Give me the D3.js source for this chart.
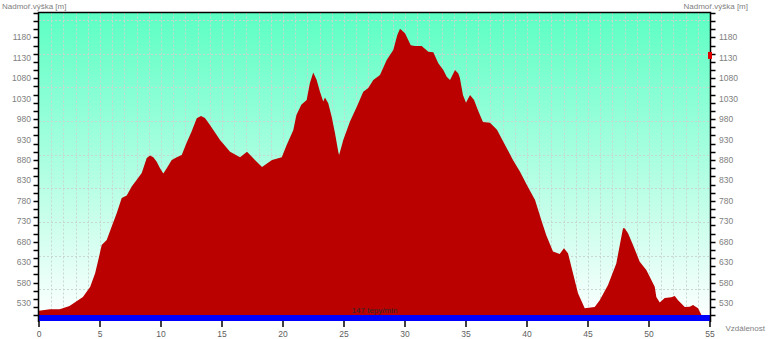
<!DOCTYPE html>
<html>
<head>
<meta charset="utf-8">
<script src="https://cdn.jsdelivr.net/npm/d3@7"></script>
<style>
    body { margin: 0; background: #fff; }
    svg text { font-family: Arial, "Liberation Sans", sans-serif; }
</style>
</head>
<body>
<svg id="chart" width="768" height="339"></svg>
<script>
// distance [km] and elevation [m]
var distance = [0, 0.9, 1.7, 2.5, 3.6, 4.2, 4.6, 4.86, 5.14, 5.55, 5.96, 6.37, 6.78, 7.19, 7.6, 8.0, 8.42, 8.83, 9.1, 9.37,
    9.65, 9.92, 10.19, 10.47, 10.88, 11.29, 11.7, 12.1, 12.5, 12.93, 13.28, 13.6, 14.0, 14.84, 15.66, 16.48, 17.05, 17.7, 18.28, 19.1,
    19.9, 20.3, 20.84, 21.1, 21.5, 21.94, 22.2, 22.48, 22.76, 23.03, 23.3, 23.44, 23.71, 23.99, 24.26, 24.53, 24.6, 24.94, 25.49, 26.04,
    26.58, 26.99, 27.4, 27.95, 28.5, 29.04, 29.37, 29.59, 30.0, 30.47, 30.82, 31.37, 31.91, 32.32, 32.73, 33.14, 33.42, 33.69, 34.1, 34.37,
    34.5, 34.75, 35.0, 35.33, 35.66, 35.98, 36.39, 36.97, 37.54, 38.2, 38.85, 39.43, 40.0, 40.66, 41.17, 41.58, 42.13, 42.68, 43.03, 43.36,
    43.77, 44.18, 44.73, 45.55, 45.96, 46.64, 47.32, 47.87, 48.0, 48.28, 48.69, 49.24, 49.78, 50.47, 50.6, 50.88, 51.29, 51.83, 52.11, 52.38,
    52.93, 53.34, 53.61, 54.02, 54.29, 54.4];
var elevation = [511, 515, 515, 523, 545, 570, 603, 635, 672, 684, 717, 750, 787, 793, 815, 831, 848, 885, 891, 887,
    876, 860, 847, 860, 880, 887, 892, 922, 949, 982, 988, 983, 966, 929, 900, 887, 900, 880, 863, 880,
    887, 917, 953, 990, 1015, 1027, 1068, 1094, 1076, 1047, 1023, 1033, 1019, 986, 946, 900, 892, 929, 974, 1010,
    1047, 1056, 1076, 1088, 1125, 1149, 1186, 1201, 1190, 1161, 1159, 1159, 1145, 1144, 1117, 1100, 1084, 1076, 1100, 1092,
    1081, 1039, 1020, 1039, 1027, 1002, 973, 971, 954, 917, 880, 851, 818, 782, 733, 696, 656, 650, 664, 652,
    603, 554, 517, 520, 537, 574, 627, 713, 713, 701, 672, 631, 611, 570, 545, 531, 542, 544, 547, 537,
    520, 521, 525, 517, 501, 486];

var xTicks = [0, 5, 10, 15, 20, 25, 30, 35, 40, 45, 50, 55];
var yTicks = [530, 580, 630, 680, 730, 780, 830, 880, 930, 980, 1030, 1080, 1130, 1180];
var yGrid = [564, 646, 729, 811, 893, 976, 1058, 1140, 1222];
var heartRateLabel = "147 tepy/min";
var markerElevation = 1136;

var svg = d3.select('#chart');
var plotLeft = 39, plotRight = 710, plotTop = 12.5, plotBottom = 321;

var x = d3.scaleLinear().domain([0, 55]).range([plotLeft, plotRight]);
var y = d3.scaleLinear().domain([486, 1241]).range([plotBottom, plotTop]);

// background gradient
var grad = svg.append('defs').append('linearGradient')
    .attr('id', 'bg').attr('x1', 0).attr('y1', 0).attr('x2', 0).attr('y2', 1);
grad.append('stop').attr('offset', '0%').attr('stop-color', '#5cffc4');
grad.append('stop').attr('offset', '100%').attr('stop-color', '#ffffff');

svg.append('rect')
    .attr('x', plotLeft).attr('y', plotTop)
    .attr('width', plotRight - plotLeft).attr('height', plotBottom - plotTop)
    .attr('fill', 'url(#bg)');

// dashed grid
svg.append('g').selectAll('line').data(d3.range(1, 55)).enter().append('line')
    .attr('x1', function(d) { return Math.round(x(d)) + 0.5; })
    .attr('x2', function(d) { return Math.round(x(d)) + 0.5; })
    .attr('y1', plotTop).attr('y2', plotBottom)
    .attr('stroke', '#c8d8d0').attr('stroke-dasharray', '2,2');

svg.append('g').selectAll('line').data(yGrid).enter().append('line')
    .attr('y1', function(d) { return Math.round(y(d)) + 0.5; })
    .attr('y2', function(d) { return Math.round(y(d)) + 0.5; })
    .attr('x1', plotLeft).attr('x2', plotRight)
    .attr('stroke', '#c8d8d0').attr('stroke-dasharray', '2,2');

// elevation profile
var area = d3.area()
    .x(function(d, i) { return x(distance[i]); })
    .y0(plotBottom)
    .y1(function(d) { return y(d); });

svg.append('path')
    .datum(elevation)
    .attr('d', area)
    .attr('fill', '#bb0000');

// heart rate bar
svg.append('rect')
    .attr('x', plotLeft).attr('y', plotBottom - 6)
    .attr('width', plotRight - plotLeft).attr('height', 6)
    .attr('fill', '#0000ff');

svg.append('text')
    .attr('x', x(27.5)).attr('y', plotBottom - 8)
    .attr('text-anchor', 'middle')
    .attr('font-size', '8px')
    .attr('fill', '#2a2a2a')
    .text(heartRateLabel);

// frame
svg.append('path')
    .attr('d', 'M' + (plotLeft - 0.5) + ',' + (plotBottom + 1) + 'V' + plotTop + 'H' + (plotRight + 0.5) + 'V' + (plotBottom + 1))
    .attr('fill', 'none').attr('stroke', '#000').attr('stroke-width', 1.5);

// y ticks, both sides
var minorTicks = d3.range(500, 1241, 20);
[['left', -1], ['right', 1]].forEach(function(side) {
    var ax = side[0] === 'left' ? plotLeft - 0.5 : plotRight + 0.5;
    var dir = side[1];
    svg.append('g').selectAll('line').data(minorTicks).enter().append('line')
        .attr('x1', ax).attr('x2', ax + dir * 5)
        .attr('y1', function(d) { return Math.round(y(d)) + 0.5; })
        .attr('y2', function(d) { return Math.round(y(d)) + 0.5; })
        .attr('stroke', '#000').attr('stroke-width', 1.5);

    svg.append('g').selectAll('text').data(yTicks).enter().append('text')
        .attr('x', side[0] === 'left' ? 31 : 719)
        .attr('y', function(d) { return y(d) + 3; })
        .attr('text-anchor', side[0] === 'left' ? 'end' : 'start')
        .attr('font-size', '8.5px')
        .attr('fill', '#808080')
        .text(String);
});

// x ticks
svg.append('g').selectAll('line').data(xTicks).enter().append('line')
    .attr('x1', function(d) { return x(d); })
    .attr('x2', function(d) { return x(d); })
    .attr('y1', plotBottom).attr('y2', plotBottom + 6)
    .attr('stroke', '#000').attr('stroke-width', 1.5);

svg.append('g').selectAll('text').data(xTicks).enter().append('text')
    .attr('x', function(d) { return x(d); })
    .attr('y', 337)
    .attr('text-anchor', 'middle')
    .attr('font-size', '8.5px')
    .attr('fill', '#606060')
    .text(String);

// axis titles
svg.append('text').attr('x', 2).attr('y', 9)
    .attr('font-size', '8px').attr('fill', '#808080')
    .text('Nadmoř.výška [m]');
svg.append('text').attr('x', 748).attr('y', 9)
    .attr('text-anchor', 'end')
    .attr('font-size', '8px').attr('fill', '#808080')
    .text('Nadmoř.výška [m]');
svg.append('text').attr('x', 765).attr('y', 331)
    .attr('text-anchor', 'end')
    .attr('font-size', '8px').attr('fill', '#808080')
    .text('Vzdálenost');

// marker on the right axis
svg.append('rect')
    .attr('x', plotRight - 2).attr('y', y(markerElevation) - 3.5)
    .attr('width', 4).attr('height', 7)
    .attr('fill', '#e00000');
</script>
</body>
</html>
